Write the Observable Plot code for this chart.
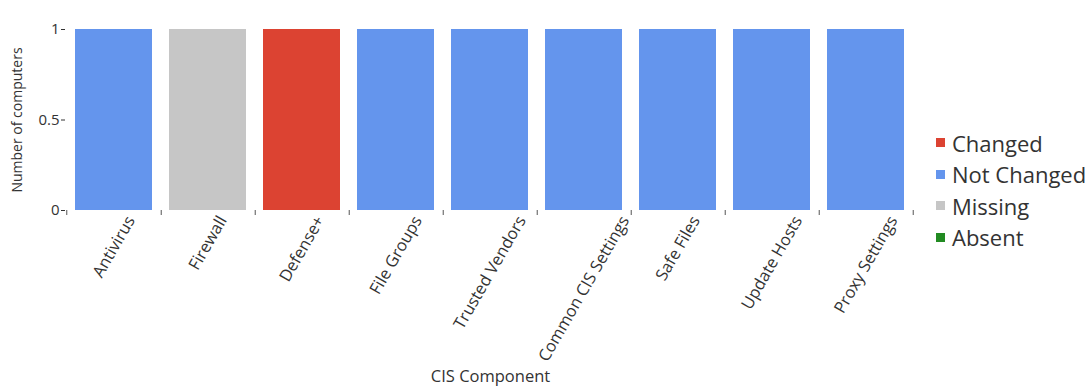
<!DOCTYPE html>
<html>
<head>
<meta charset="utf-8">
<script src="https://cdn.jsdelivr.net/npm/d3@7"></script>
<script src="https://cdn.jsdelivr.net/npm/@observablehq/plot@0.6"></script>
<style>
  html, body { margin: 0; padding: 0; background: #fff; }
  #wrap { position: relative; width: 1090px; height: 388px; font-family: "Open Sans", "Noto Sans", sans-serif; }
  #legend { position: absolute; left: 936px; top: 127px; color: #333; font-size: 22px; }
  #legend .item { display: flex; align-items: center; height: 31.5px; }
  #legend .sw { width: 9px; height: 9px; margin-right: 7px; }
</style>
</head>
<body>
<div id="wrap"></div>
<script>
const categories = ["Antivirus", "Firewall", "Defense+", "File Groups", "Trusted Vendors", "Common CIS Settings", "Safe Files", "Update Hosts", "Proxy Settings"];
const statuses = ["Not Changed", "Missing", "Changed", "Not Changed", "Not Changed", "Not Changed", "Not Changed", "Not Changed", "Not Changed"];
const counts = [1, 1, 1, 1, 1, 1, 1, 1, 1];
const legendLabels = ["Changed", "Not Changed", "Missing", "Absent"];
const legendColors = ["#dc4332", "#6495ed", "#c6c6c6", "#228b22"];
const yTicks = [0, 0.5, 1];

const data = categories.map((c, i) => ({category: c, status: statuses[i], count: counts[i]}));

const FONT = "'Open Sans', 'Noto Sans', sans-serif";
const W = 1090, ML = 65, MR = 175;
const step = (W - ML - MR) / categories.length;
const labelSize = 16.5;
const angle = 60;

// measure label widths so each rotated label is centred under its band with its top just below the axis
const ctx = document.createElement("canvas").getContext("2d");
ctx.font = `${labelSize}px ${FONT}`;
const rad = angle * Math.PI / 180;
const inkH = labelSize * 0.72;
const labelOffset = c => {
  const w = ctx.measureText(c).width;
  return 4 + (w * Math.sin(rad) + inkH * Math.cos(rad)) / 2;
};

const chart = Plot.plot({
  width: W,
  height: 388,
  marginLeft: ML,
  marginRight: MR,
  marginTop: 29,
  marginBottom: 178,
  style: {fontFamily: FONT, color: "#333", background: "#fff"},
  x: {domain: categories, paddingInner: 0.18, paddingOuter: 0.09},
  y: {domain: [0, 1]},
  color: {domain: legendLabels, range: legendColors},
  marks: [
    Plot.barY(data, {x: "category", y: "count", fill: "status"}),
    Plot.axisY(yTicks, {
      tickSize: 4, tickPadding: 2, fontSize: 15,
      tickFormat: d => String(d),
      label: null
    }),
    Plot.axisY(yTicks, {
      tickSize: 0, tickFormat: () => "", fontSize: 14,
      label: "Number of computers", labelAnchor: "center", labelArrow: "none", labelOffset: 53
    }),
    // boundary ticks between bands
    Plot.axisX(categories, {tickSize: 5, tickFormat: () => "", dx: step / 2, label: null, stroke: "#555"}),
    Plot.axisX([categories[0]], {tickSize: 5, tickFormat: () => "", dx: -step / 2, label: null, stroke: "#555"}),
    // axis title
    Plot.axisX(categories, {
      tickSize: 0, tickFormat: () => "", fontSize: 16.5,
      label: "CIS Component", labelAnchor: "center", labelArrow: "none", labelOffset: 171
    }),
    // rotated category labels, centred on each band
    ...categories.map(c => Plot.text([c], {
      x: d => d, text: d => d, frameAnchor: "bottom",
      dy: labelOffset(c), rotate: -angle, textAnchor: "middle", lineAnchor: "middle",
      fontSize: labelSize, fill: "#333"
    }))
  ]
});

const wrap = document.getElementById("wrap");
wrap.appendChild(chart);

const legend = document.createElement("div");
legend.id = "legend";
legendLabels.forEach((l, i) => {
  const item = document.createElement("div");
  item.className = "item";
  const sw = document.createElement("span");
  sw.className = "sw";
  sw.style.background = legendColors[i];
  const tx = document.createElement("span");
  tx.textContent = l;
  item.appendChild(sw);
  item.appendChild(tx);
  legend.appendChild(item);
});
wrap.appendChild(legend);
</script>
</body>
</html>
